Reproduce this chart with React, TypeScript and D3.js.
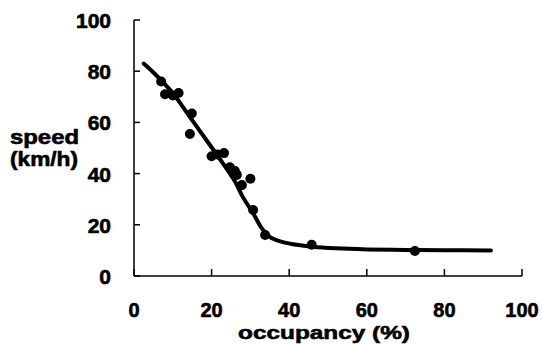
import React from "react";
import * as d3 from "d3";

// Observed data points (occupancy %, speed km/h)
const occupancy = [7, 8, 10, 11.5, 14.9, 14.4, 20, 21.5, 23.2, 24.7, 26, 26.5, 27.8, 30, 30.7, 33.8, 45.8, 72.4];
const speed = [76, 71, 70.5, 71.5, 63.5, 55.5, 46.8, 47.5, 48, 42.5, 41, 39.5, 35.5, 38, 25.8, 16, 12.2, 9.8];

// Fitted curve
const curveOcc = [2.5, 5, 7.6, 10, 14, 18, 22, 26, 28, 30.7, 33, 35, 37.5, 41, 46, 52, 60, 70, 80, 92];
const curveSpeed = [83, 79.5, 75.5, 71.5, 63, 54.5, 46, 37, 31, 24.5, 18.5, 15.3, 13.6, 12.4, 11.4, 10.8, 10.4, 10.2, 10.1, 10];

const xTicks = [0, 20, 40, 60, 80, 100];
const yTicks = [0, 20, 40, 60, 80, 100];

export default function App() {
  const x = d3.scaleLinear().domain([0, 100]).range([134, 522]);
  const y = d3.scaleLinear().domain([0, 100]).range([276, 20]);

  const pts = curveOcc.map((o, i) => [o, curveSpeed[i]] as [number, number]);
  const line = d3
    .line<[number, number]>()
    .x((d) => x(d[0]))
    .y((d) => y(d[1]))
    .curve(d3.curveCatmullRom.alpha(0.5));

  const font = "'Liberation Sans', Arial, sans-serif";
  const textStyle = { fontFamily: font, fontWeight: "bold" as const, fill: "#000", stroke: "#000", strokeWidth: 0.6 };

  return (
    <svg
      width={542}
      height={344}
      style={{ position: "absolute", left: 0, top: 0, background: "#fff" }}
    >
      {/* axes */}
      <line x1={x(0)} x2={x(0)} y1={y(100)} y2={y(0)} stroke="#000" strokeWidth={1.5} />
      <line x1={x(0)} x2={x(100)} y1={y(0)} y2={y(0)} stroke="#000" strokeWidth={1.5} />
      {yTicks.map((t) => (
        <g key={"y" + t}>
          <line x1={x(0)} x2={x(0) + 6} y1={y(t)} y2={y(t)} stroke="#000" strokeWidth={1.5} />
          <text x={111} y={y(t) + 8} textAnchor="end" fontSize={21} {...textStyle}>
            {t}
          </text>
        </g>
      ))}
      {xTicks.map((t) => (
        <g key={"x" + t}>
          <line x1={x(t)} x2={x(t)} y1={y(0)} y2={y(0) - 7} stroke="#000" strokeWidth={1.5} />
          <text x={x(t)} y={316.5} textAnchor="middle" fontSize={20} {...textStyle}>
            {t}
          </text>
        </g>
      ))}

      {/* axis titles */}
      <text x={10} y={144} fontSize={20} textLength={69} lengthAdjust="spacingAndGlyphs" {...textStyle}>
        speed
      </text>
      <text x={10} y={166} fontSize={20} textLength={68} lengthAdjust="spacingAndGlyphs" {...textStyle}>
        (km/h)
      </text>
      <text x={238} y={339} fontSize={19} textLength={172} lengthAdjust="spacingAndGlyphs" {...textStyle}>
        occupancy (%)
      </text>

      {/* curve */}
      <path d={line(pts) || ""} fill="none" stroke="#000" strokeWidth={4} strokeLinecap="round" />

      {/* points */}
      {occupancy.map((o, i) => (
        <circle key={i} cx={x(o)} cy={y(speed[i])} r={5} fill="#000" />
      ))}
    </svg>
  );
}
